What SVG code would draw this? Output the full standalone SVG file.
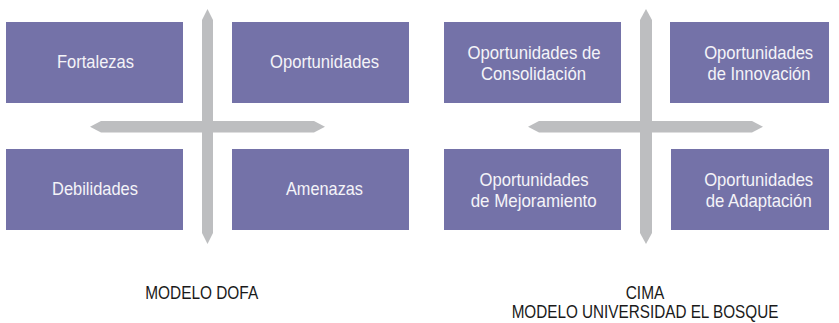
<svg xmlns="http://www.w3.org/2000/svg" width="839" height="323" viewBox="0 0 839 323">
<style>
.box{fill:#7472a8}
.bar{fill:#bdbec0}
.t{font-family:"Liberation Sans",Arial,sans-serif;font-size:18.6px;fill:#f4f4f8;text-anchor:middle}
.cap{font-family:"Liberation Sans",Arial,sans-serif;font-size:18.6px;fill:#1a1a1a;text-anchor:middle}
</style>
<rect width="839" height="323" fill="#ffffff"/>
<g id="connectors">
<polygon class="bar" points="207.5,9 213,20 213,233 207.5,244 202,233 202,20"/>
<polygon class="bar" points="90,126.8 101,121 314,121 325,126.8 314,132.6 101,132.6"/>
<polygon class="bar" points="646,9 652,20 652,233 646,244 640,233 640,20"/>
<polygon class="bar" points="528,126.8 539,121 752,121 763,126.8 752,132.6 539,132.6"/>
</g>
<g id="fortalezas"><rect class="box" x="6" y="22" width="177" height="81"/><text class="t" x="95.5" y="68" textLength="77" lengthAdjust="spacingAndGlyphs">Fortalezas</text></g>
<g id="oportunidades"><rect class="box" x="232" y="22" width="177" height="81"/><text class="t" x="324.5" y="68" textLength="109" lengthAdjust="spacingAndGlyphs">Oportunidades</text></g>
<g id="debilidades"><rect class="box" x="6" y="149" width="177" height="81"/><text class="t" x="95" y="195" textLength="86" lengthAdjust="spacingAndGlyphs">Debilidades</text></g>
<g id="amenazas"><rect class="box" x="232" y="149" width="177" height="81"/><text class="t" x="324.5" y="195" textLength="77" lengthAdjust="spacingAndGlyphs">Amenazas</text></g>
<g id="consolidacion"><rect class="box" x="444" y="22" width="177" height="81"/><text class="t" x="534" y="59" textLength="133" lengthAdjust="spacingAndGlyphs">Oportunidades de</text><text class="t" x="533.5" y="80" textLength="105" lengthAdjust="spacingAndGlyphs">Consolidación</text></g>
<g id="innovacion"><rect class="box" x="670" y="22" width="159" height="81"/><text class="t" x="758.7" y="59" textLength="109" lengthAdjust="spacingAndGlyphs">Oportunidades</text><text class="t" x="759" y="80" textLength="103" lengthAdjust="spacingAndGlyphs">de Innovación</text></g>
<g id="mejoramiento"><rect class="box" x="444" y="149" width="177" height="81"/><text class="t" x="534" y="186" textLength="109" lengthAdjust="spacingAndGlyphs">Oportunidades</text><text class="t" x="533.7" y="207" textLength="126" lengthAdjust="spacingAndGlyphs">de Mejoramiento</text></g>
<g id="adaptacion"><rect class="box" x="671" y="149" width="158" height="81"/><text class="t" x="758.7" y="186" textLength="109" lengthAdjust="spacingAndGlyphs">Oportunidades</text><text class="t" x="758.7" y="207" textLength="106" lengthAdjust="spacingAndGlyphs">de Adaptación</text></g>
<g id="captions">
<text class="cap" x="201.7" y="299" textLength="113" lengthAdjust="spacingAndGlyphs">MODELO DOFA</text>
<text class="cap" x="645" y="299" textLength="38.6" lengthAdjust="spacingAndGlyphs">CIMA</text>
<text class="cap" x="645" y="318" textLength="266.7" lengthAdjust="spacingAndGlyphs">MODELO UNIVERSIDAD EL BOSQUE</text>
</g>
</svg>
